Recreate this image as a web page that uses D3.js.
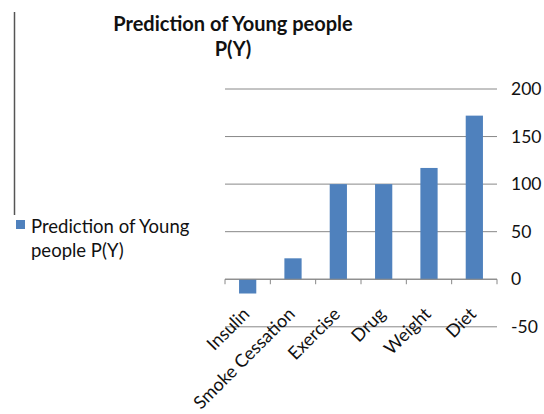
<!DOCTYPE html>
<html><head><meta charset="utf-8">
<script src="https://cdn.jsdelivr.net/npm/d3@7"></script>
<style>html,body{margin:0;padding:0;background:#fff;}svg{display:block;font-family:Lato,"Open Sans",sans-serif;}</style>
</head><body>
<svg id="c" width="544" height="414"></svg>
<script>
const categories = ["Insulin","Smoke Cessation","Exercise","Drug","Weight","Diet"];
const values = [-15, 22, 100, 100, 117, 172];
const yTicks = [-50, 0, 50, 100, 150, 200];
const seriesName = "Prediction of Young people P(Y)";
const titleLines = ["Prediction of Young people","P(Y)"];

const svg = d3.select("#c");
const x = d3.scaleBand().domain(categories).range([225, 497]).paddingInner(0.62).paddingOuter(0.31);
const y = d3.scaleLinear().domain([-50, 200]).range([326.8, 89]);
const color = "#4f81bd";

// gridlines
svg.append("g").selectAll("line").data(yTicks).join("line")
  .attr("x1", 225).attr("x2", 497)
  .attr("y1", d => y(d)).attr("y2", d => y(d))
  .attr("stroke", "#888").attr("stroke-width", 1);

// y labels
svg.append("g").selectAll("text").data(yTicks).join("text")
  .attr("x", 511).attr("y", d => y(d)).attr("dy", "0.35em")
  .attr("font-size", 17.5).attr("fill", "#111").text(d => d);

// bars
svg.append("g").selectAll("rect").data(values).join("rect")
  .attr("x", (d,i) => x(categories[i]))
  .attr("width", x.bandwidth())
  .attr("y", d => y(Math.max(0,d)))
  .attr("height", d => Math.abs(y(d) - y(0)))
  .attr("fill", color);

// zero axis + ticks
svg.append("line").attr("x1",225).attr("x2",497).attr("y1",y(0)).attr("y2",y(0)).attr("stroke","#888");
const boundaries = d3.range(categories.length + 1).map(i => 225 + i * (272 / categories.length));
svg.append("g").selectAll("line").data(boundaries).join("line")
  .attr("x1", d => d).attr("x2", d => d)
  .attr("y1", y(0)).attr("y2", y(0) + 5).attr("stroke", "#888");

// x labels
svg.append("g").selectAll("text").data(categories).join("text")
  .attr("text-anchor", "end")
  .attr("font-size", 18).attr("fill", "#111")
  .attr("transform", d => `translate(${x(d) + x.bandwidth()/2 + 3},${y(0) + 36}) rotate(-45)`)
  .text(d => d);

// title
svg.append("g").selectAll("text").data(titleLines).join("text")
  .attr("x", 233).attr("y", (d,i) => 31 + i * 25)
  .attr("text-anchor", "middle").attr("font-weight", "bold")
  .attr("font-size", 20).attr("fill", "#111").text(d => d);

// left vertical line
svg.append("line").attr("x1",14.5).attr("x2",14.5).attr("y1",12).attr("y2",215)
  .attr("stroke","#555").attr("stroke-width",1.5);

// legend
svg.append("rect").attr("x",16).attr("y",220).attr("width",9).attr("height",9).attr("fill",color);
const lg = svg.append("text").attr("font-size",18.5).attr("fill","#111");
lg.append("tspan").attr("x",31).attr("y",233).text("Prediction of Young");
lg.append("tspan").attr("x",31).attr("y",257).text("people P(Y)");
</script>
</body></html>
